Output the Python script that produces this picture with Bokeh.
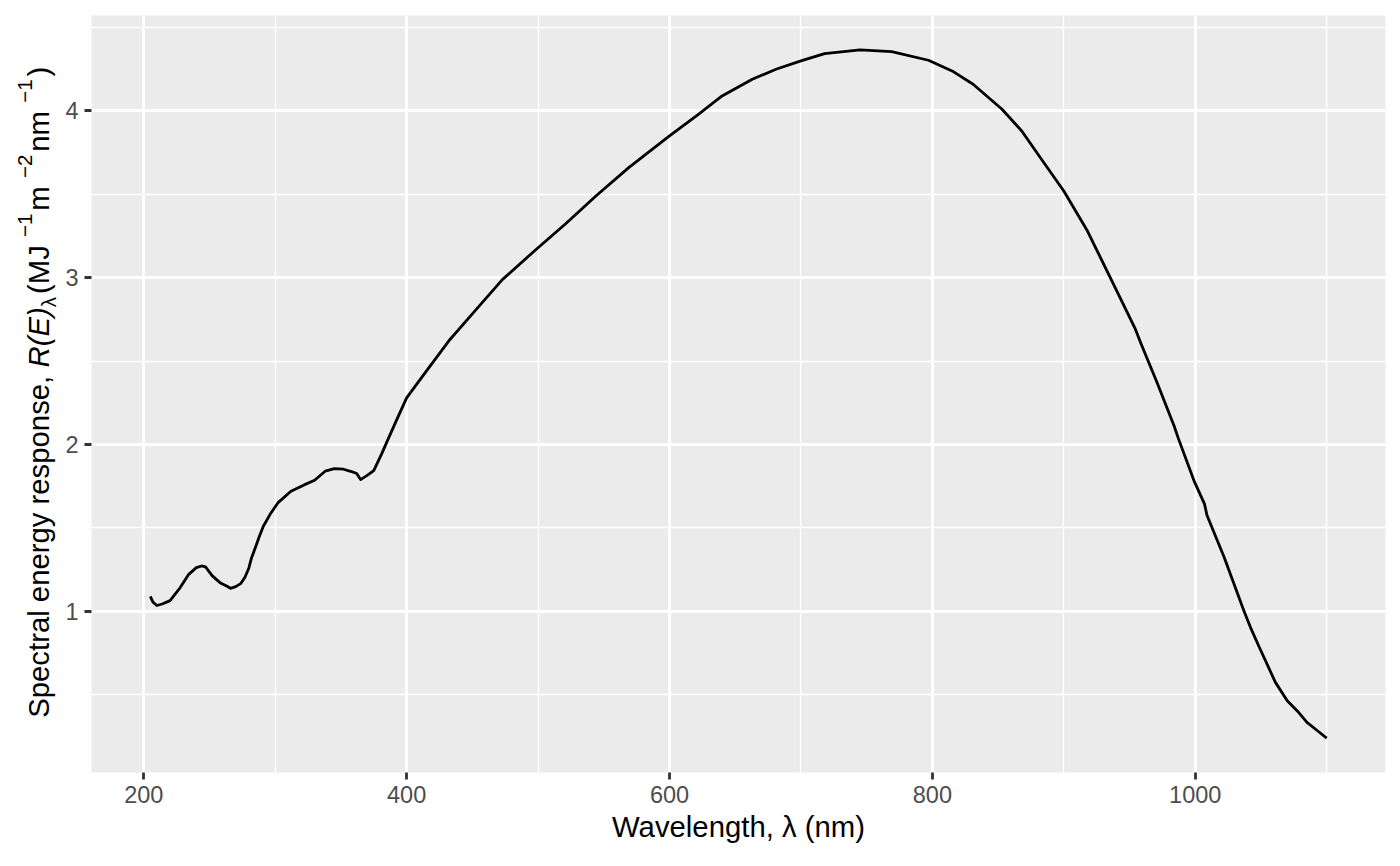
import math
from bokeh.plotting import figure
from bokeh.layouts import row
from bokeh.models import Range1d, SingleIntervalTicker
from bokeh.core.properties import value
from bokeh.embed import file_html
from bokeh.resources import INLINE

# ---- data ----
wavelength = [205, 207, 210, 214, 220, 227, 234, 240, 244, 247, 252, 258, 263, 266,
              270, 274, 277, 280, 282, 285, 288, 291, 296, 302, 312, 322, 330, 338,
              345, 352, 358, 362, 365, 370, 375, 381, 386, 392, 400, 415, 433, 453,
              473, 500, 521, 544, 569, 600, 622, 640, 663, 681, 700, 718, 745, 769,
              797, 815, 831, 853, 868, 883, 900, 918, 936, 954, 959, 971, 984, 987,
              999, 1007, 1009, 1022, 1037, 1042, 1049, 1061, 1070, 1078, 1085, 1093, 1100]
response = [1.09, 1.055, 1.035, 1.044, 1.064, 1.134, 1.22, 1.262, 1.272, 1.266, 1.214,
            1.172, 1.152, 1.138, 1.148, 1.168, 1.204, 1.26, 1.32, 1.384, 1.45, 1.51,
            1.58, 1.65, 1.72, 1.758, 1.786, 1.84, 1.855, 1.852, 1.838, 1.826, 1.79,
            1.815, 1.844, 1.944, 2.034, 2.14, 2.28, 2.44, 2.63, 2.81, 2.99, 3.18,
            3.324, 3.49, 3.66, 3.85, 3.98, 4.09, 4.19, 4.25, 4.30, 4.344, 4.366,
            4.356, 4.304, 4.24, 4.16, 4.01, 3.88, 3.71, 3.52, 3.28, 2.99, 2.70, 2.60,
            2.37, 2.11, 2.04, 1.784, 1.644, 1.574, 1.324, 1.004, 0.904, 0.78, 0.574,
            0.464, 0.40, 0.334, 0.284, 0.24]
x_title = "Wavelength, λ (nm)"
y_title_parts = [  # (text, style, script)
    ("Spectral energy response, ", "normal", "base"),
    ("R(E)", "italic", "base"),
    ("λ", "normal", "sub"),
    (" (MJ", "normal", "base"),
    ("−1", "normal", "sup"),
    (" m", "normal", "base"),
    ("−2", "normal", "sup"),
    (" nm", "normal", "base"),
    ("−1", "normal", "sup"),
    (")", "normal", "base"),
]

FONT = "Liberation Sans"
TITLE_PX = 29.3
TICK_PX = 23.5
H = 858
TITLE_W = 62
FRAME_TOP = 15
FRAME_BOTTOM = 771.7

xmin, xmax = min(wavelength), max(wavelength)
ymin, ymax = min(response), max(response)
xpad = 0.05 * (xmax - xmin)
ypad = 0.05 * (ymax - ymin)

p = figure(width=1392 - TITLE_W, height=H,
           x_range=Range1d(xmin - xpad, xmax + xpad),
           y_range=Range1d(ymin - ypad, ymax + ypad),
           output_backend="svg", toolbar_location=None,
           min_border_left=89 - TITLE_W, min_border_right=7,
           min_border_top=FRAME_TOP, min_border_bottom=round(H - FRAME_BOTTOM))

p.background_fill_color = "#EBEBEB"
p.border_fill_color = "white"
p.outline_line_color = None

xt = SingleIntervalTicker(interval=200, num_minor_ticks=2)
yt = SingleIntervalTicker(interval=1, num_minor_ticks=2)
p.xaxis.ticker = xt
p.yaxis.ticker = yt
p.xgrid.ticker = xt
p.ygrid.ticker = yt

for g in (p.xgrid, p.ygrid):
    g.grid_line_color = "white"
    g.grid_line_width = 2.8
    g.minor_grid_line_color = "white"
    g.minor_grid_line_width = 1.4

for ax in (p.xaxis, p.yaxis):
    ax.axis_line_color = None
    ax.major_tick_line_color = "#333333"
    ax.major_tick_line_width = 2.8
    ax.major_tick_in = 0
    ax.major_tick_out = 7
    ax.minor_tick_line_color = None
    ax.major_label_text_font = FONT
    ax.major_label_text_font_size = f"{TICK_PX}px"
    ax.major_label_text_color = "#4D4D4D"
    ax.major_label_standoff = 6
    ax.axis_label_text_font = FONT
    ax.axis_label_text_font_size = f"{TITLE_PX}px"
    ax.axis_label_text_font_style = "normal"
    ax.axis_label_text_color = "black"

p.xaxis.axis_label = x_title
p.xaxis.axis_label_standoff = 4

p.line(wavelength, response, line_color="black", line_width=2.8, line_join="round")

# ---- y-axis title: a narrow pixel-unit figure holding rotated text pieces ----
# its frame is aligned with the main frame (FRAME_TOP..FRAME_BOTTOM); data y = H - page y
t = figure(width=TITLE_W, height=H, x_range=Range1d(0, TITLE_W),
           y_range=Range1d(H - FRAME_BOTTOM, H - FRAME_TOP),
           output_backend="svg", toolbar_location=None,
           x_axis_type=None, y_axis_type=None,
           min_border_left=0, min_border_right=0,
           min_border_top=FRAME_TOP, min_border_bottom=round(H - FRAME_BOTTOM))
t.outline_line_color = None
t.background_fill_color = "white"
t.border_fill_color = "white"
t.xgrid.visible = False
t.ygrid.visible = False

widths = {"S": 667, "p": 556, "e": 556, "c": 500, "t": 278, "r": 333, "a": 556, "l": 222,
          " ": 278, "n": 556, "g": 556, "y": 500, "s": 500, "o": 556, ",": 278, "R": 722,
          "(": 333, "E": 667, ")": 333, "M": 833, "J": 500, "m": 833, "−": 584, "1": 556,
          "2": 556, "λ": 500}
baseline_x = 38.0
pos = 717.0  # page y of the start of the title (bottom end)
for text, style, script in y_title_parts:
    size = TITLE_PX * (0.7 if script != "base" else 1.0)
    shift = {"base": 0.0, "sub": 10.0, "sup": -14.0}[script]
    w = sum(widths.get(ch, 556) for ch in text) / 1000.0 * size
    t.text(x=[baseline_x + shift], y=[H - pos], text=[text], angle=math.pi / 2,
           text_font=value(FONT), text_font_size=f"{size:.1f}px",
           text_font_style=style, text_color="black",
           text_align="left", text_baseline="alphabetic")
    pos -= w + (3.0 if script != "base" else 0.0)

layout = row(t, p)
open("out.html", "w").write(file_html(layout, INLINE))
